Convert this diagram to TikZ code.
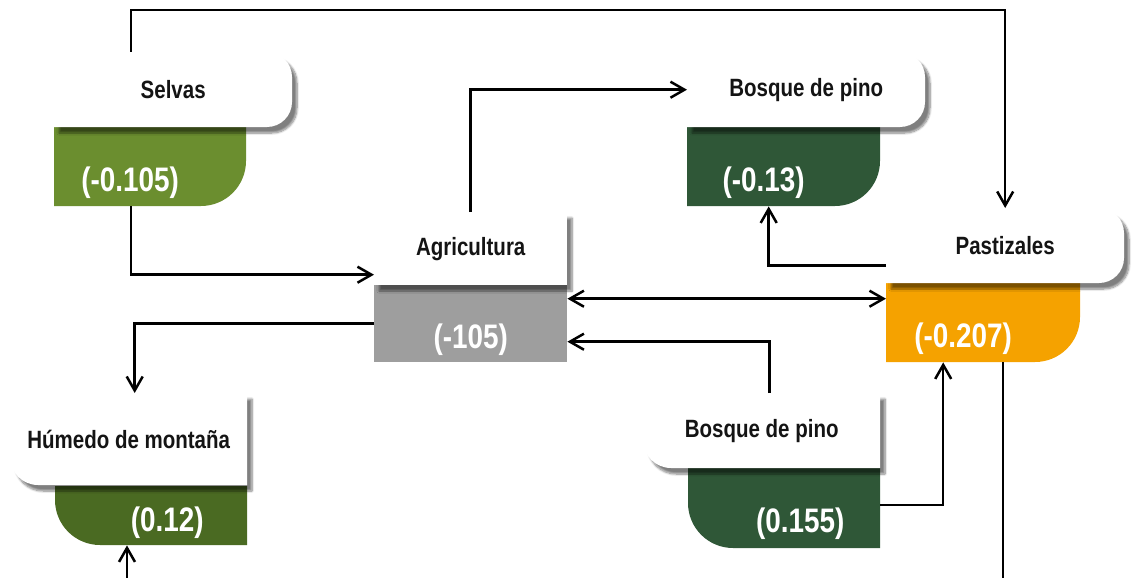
\documentclass[tikz,border=0pt]{standalone}
\usepackage{fontspec}
\setmainfont{Liberation Sans}[FakeStretch=0.82]
\usetikzlibrary{arrows.meta,calc,shadows.blur}
\definecolor{selvacol}{HTML}{6B8E2F}
\definecolor{pinocol}{HTML}{2F5737}
\definecolor{humedocol}{HTML}{4A6A22}
\definecolor{agricol}{HTML}{9E9E9E}
\definecolor{pastocol}{HTML}{F5A200}
\tikzset{
  lbl/.style={anchor=north west, inner sep=0pt, minimum width=238, minimum height=75,
    font=\fontsize{25}{28}\selectfont\bfseries, text=black!92},
  valbox/.style={anchor=north west, inner sep=0pt, minimum width=192, minimum height=79},
  valtxt/.style={font=\fontsize{34}{38}\selectfont\bfseries, text=white},
  wire/.style={line width=2.5pt},
  whitebox/.style={fill=white, blur shadow={shadow xshift=5pt, shadow yshift=-6pt,
    shadow opacity=50, shadow blur steps=8}}
}
\begin{document}
\begin{tikzpicture}[x=1pt, y=-1pt, >={Straight Barb[length=14pt,width=16pt]}]
\useasboundingbox (0,0) rectangle (1135,578);
% colour parts
\fill[selvacol] (54,127) -- (246,127) -- (246,161) arc[start angle=0, end angle=90, radius=45] -- (54,206) -- cycle;
\fill[pinocol] (687,127) -- (880,127) -- (880,161) arc[start angle=0, end angle=90, radius=45] -- (687,206) -- cycle;
\fill[agricol] (374,285) rectangle (567,362);
\fill[pastocol] (886,283) -- (1080,283) -- (1080,317) arc[start angle=0, end angle=90, radius=45] -- (886,362) -- cycle;
\fill[humedocol] (55,486) -- (247,486) -- (247,545) -- (100,545) arc[start angle=90, end angle=180, radius=45] -- cycle;
\fill[pinocol] (688,468) -- (880,468) -- (880,548) -- (733,548) arc[start angle=90, end angle=180, radius=45] -- cycle;
% white parts
\fill[whitebox] (54,52) -- (267,52) arc[start angle=-90, end angle=0, radius=25]
  -- (292,102) arc[start angle=0, end angle=90, radius=25] -- (54,127) -- cycle;
\fill[whitebox] (687,52) -- (900,52) arc[start angle=-90, end angle=0, radius=25]
  -- (925,102) arc[start angle=0, end angle=90, radius=25] -- (687,127) -- cycle;
\fill[whitebox] (374,212) rectangle (567,285);
\fill[whitebox] (886,208) -- (1099,208) arc[start angle=-90, end angle=0, radius=25]
  -- (1124,258) arc[start angle=0, end angle=90, radius=25] -- (886,283) -- cycle;
\fill[whitebox] (35,393) -- (247,393) -- (247,485) -- (38,485) arc[start angle=90, end angle=180, radius=28]
  -- (10,418) arc[start angle=180, end angle=270, radius=25] -- cycle;
\fill[whitebox] (668,393) -- (880,393) -- (880,468) -- (671,468) arc[start angle=90, end angle=180, radius=28]
  -- (643,418) arc[start angle=180, end angle=270, radius=25] -- cycle;
% boxes
\node[lbl] (selvas) at (54,52) {Selvas};
\node[valbox, label={[valtxt,xshift=-20,yshift=-16]center:(-0.105)}] (selvasv) at (54,127) {};
\node[lbl] (bosqa) at (687,52) {Bosque de pino};
\node[valbox, minimum width=193, label={[valtxt,xshift=-20,yshift=-16]center:(-0.13)}] (bosqav) at (687,127) {};
\node[lbl, minimum width=193, minimum height=73] (agri) at (374,212) {Agricultura};
\node[valbox, minimum width=193, minimum height=77, label={[valtxt,yshift=-16]center:(-105)}] (agriv) at (374,285) {};
\node[lbl] (pasto) at (886,208) {Pastizales};
\node[valbox, minimum width=194, label={[valtxt,xshift=-20,yshift=-16]center:(-0.207)}] (pastov) at (886,283) {};
\node[lbl, minimum width=237, minimum height=92] (humedo) at (10,393) {Húmedo de montaña};
\node[valbox, minimum height=59, label={[valtxt,xshift=16,yshift=-7]center:(0.12)}] (humedov) at (55,486) {};
\node[lbl, minimum width=237] (bosqb) at (643,393) {Bosque de pino};
\node[valbox, minimum height=80, label={[valtxt,xshift=16,yshift=-16]center:(0.155)}] (bosqbv) at (688,468) {};
% connectors
\draw[wire,->] ([xshift=-42]selvas.north) -- ++(0,-42) -| (pasto.north);
\draw[wire,->] ([xshift=-19]selvasv.south) |- ([yshift=-26]agri.west);
\draw[wire,->] (agri.north) |- (bosqa.west);
\draw[wire,->] ([yshift=-20]pasto.west) -| ([xshift=-15]bosqav.south);
\draw[wire,<->] ([yshift=25]agriv.east) coordinate (dbl) -- (dbl -| pastov.west);
\draw[wire,->] ([xshift=8]bosqb.north) |- ([yshift=-18]agriv.east);
\draw[wire,->] (agriv.west) -| ([xshift=6]humedo.north);
\draw[wire,->] ([yshift=3]bosqbv.east) -| ([xshift=-40]pastov.south);
\draw[wire] ([xshift=20]pastov.south) -- ++(0,216);
\coordinate (hin) at (127,578);
\draw[wire,->] (hin) -- (hin |- humedov.south);
\end{tikzpicture}
\end{document}
